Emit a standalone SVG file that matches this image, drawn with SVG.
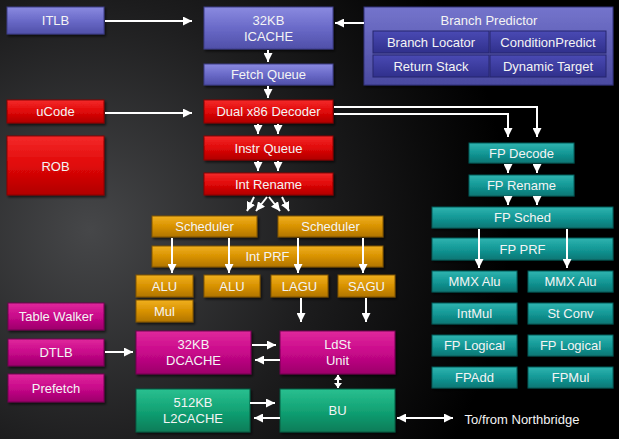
<svg xmlns="http://www.w3.org/2000/svg" width="619" height="439" viewBox="0 0 619 439">
<defs>
<radialGradient id="bg" cx="90" cy="230" r="420" gradientUnits="userSpaceOnUse">
<stop offset="0" stop-color="#464749"/>
<stop offset="0.55" stop-color="#1c1c1d"/>
<stop offset="1" stop-color="#000"/>
</radialGradient>
<linearGradient id="gBlue" x1="0" y1="0" x2="0" y2="1"><stop offset="0" stop-color="#8a8ae0"/><stop offset="0.5" stop-color="#6a6ac8"/><stop offset="1" stop-color="#4f4fa8"/></linearGradient>
<linearGradient id="gBP" x1="0" y1="0" x2="0" y2="1"><stop offset="0" stop-color="#7474cc"/><stop offset="1" stop-color="#4a4aa0"/></linearGradient>
<linearGradient id="gCell" x1="0" y1="0" x2="0" y2="1"><stop offset="0" stop-color="#4a4ab4"/><stop offset="1" stop-color="#30308c"/></linearGradient>
<linearGradient id="gRed" x1="0" y1="0" x2="0" y2="1"><stop offset="0" stop-color="#f42a2a"/><stop offset="0.5" stop-color="#e00808"/><stop offset="1" stop-color="#b00000"/></linearGradient>
<linearGradient id="gGold" x1="0" y1="0" x2="0" y2="1"><stop offset="0" stop-color="#f0b020"/><stop offset="0.5" stop-color="#d89200"/><stop offset="1" stop-color="#b07400"/></linearGradient>
<linearGradient id="gTeal" x1="0" y1="0" x2="0" y2="1"><stop offset="0" stop-color="#30b4b0"/><stop offset="0.5" stop-color="#139896"/><stop offset="1" stop-color="#0a7674"/></linearGradient>
<linearGradient id="gMag" x1="0" y1="0" x2="0" y2="1"><stop offset="0" stop-color="#e0289c"/><stop offset="0.5" stop-color="#c8088a"/><stop offset="1" stop-color="#9c006a"/></linearGradient>
<linearGradient id="gGreen" x1="0" y1="0" x2="0" y2="1"><stop offset="0" stop-color="#2ac090"/><stop offset="0.5" stop-color="#12a274"/><stop offset="1" stop-color="#0a7c58"/></linearGradient>
<marker id="ah" markerUnits="userSpaceOnUse" markerWidth="10" markerHeight="9" refX="9" refY="4.5" orient="auto">
<path d="M0,0 L9,4.5 L0,9 Z" fill="#fff"/>
</marker>
<marker id="as" markerUnits="userSpaceOnUse" markerWidth="10" markerHeight="9" refX="0" refY="4.5" orient="auto">
<path d="M9,0 L0,4.5 L9,9 Z" fill="#fff"/>
</marker>
<marker id="ahs" markerUnits="userSpaceOnUse" markerWidth="6" markerHeight="8" refX="5" refY="4" orient="auto">
<path d="M0,0 L5,4 L0,8 Z" fill="#fff"/>
</marker>
<marker id="ass" markerUnits="userSpaceOnUse" markerWidth="6" markerHeight="8" refX="0" refY="4" orient="auto">
<path d="M5,0 L0,4 L5,8 Z" fill="#fff"/>
</marker>
<filter id="sh" x="-10%" y="-10%" width="130%" height="140%"><feDropShadow dx="1.5" dy="2" stdDeviation="1.2" flood-color="#000" flood-opacity="0.6"/></filter>
</defs>
<style>
text{font-family:"Liberation Sans",Arial,sans-serif;font-size:13px;fill:#f4f4f4;text-anchor:middle}
rect{filter:url(#sh)}
.blue{fill:url(#gBlue);stroke:#3c3c88;stroke-width:1}
.bp{fill:url(#gBP);stroke:#33337a;stroke-width:1}
.cell{fill:url(#gCell);stroke:#26266e;stroke-width:1}
.red{fill:url(#gRed);stroke:#8a0000;stroke-width:1}
.gold{fill:url(#gGold);stroke:#805400;stroke-width:1}
.teal{fill:url(#gTeal);stroke:#055a58;stroke-width:1}
.mag{fill:url(#gMag);stroke:#700050;stroke-width:1}
.green{fill:url(#gGreen);stroke:#075a40;stroke-width:1}
.c{fill:none;stroke:#fff;stroke-width:2;marker-end:url(#ah)}
.d{fill:none;stroke:#fff;stroke-width:2;marker-end:url(#ah);marker-start:url(#as)}
.ds{fill:none;stroke:#fff;stroke-width:2;marker-end:url(#ahs);marker-start:url(#ass)}
</style>
<rect x="0" y="0" width="619" height="439" fill="url(#bg)" style="filter:none"/>

<g id="itlb"><rect class="blue" x="7" y="7" width="97" height="27"/><text x="55.5" y="25">ITLB</text></g>
<g id="icache"><rect class="blue" x="204" y="7" width="129" height="42"/><text x="268.5" y="25">32KB</text><text x="268.5" y="41">ICACHE</text></g>
<g id="fetchq"><rect class="blue" x="204" y="64" width="129" height="21"/><text x="268.5" y="79">Fetch Queue</text></g>
<g id="bp"><rect class="bp" x="364" y="7" width="249" height="78"/><text x="489" y="25">Branch Predictor</text>
<rect class="cell" x="373" y="31" width="116" height="22" style="filter:none"/><text x="431" y="47">Branch Locator</text>
<rect class="cell" x="490" y="31" width="116" height="22" style="filter:none"/><text x="548" y="47">ConditionPredict</text>
<rect class="cell" x="373" y="55" width="116" height="22" style="filter:none"/><text x="431" y="71">Return Stack</text>
<rect class="cell" x="490" y="55" width="116" height="22" style="filter:none"/><text x="548" y="71">Dynamic Target</text></g>
<g id="ucode"><rect class="red" x="7" y="100" width="97" height="23"/><text x="55.5" y="116">uCode</text></g>
<g id="decoder"><rect class="red" x="204" y="100" width="129" height="23"/><text x="268.5" y="116">Dual x86 Decoder</text></g>
<g id="rob"><rect class="red" x="7" y="136" width="97" height="59"/><text x="55.5" y="171">ROB</text></g>
<g id="instrq"><rect class="red" x="204" y="136" width="129" height="24"/><text x="268.5" y="153">Instr Queue</text></g>
<g id="intrename"><rect class="red" x="204" y="173" width="129" height="22"/><text x="268.5" y="189">Int Rename</text></g>
<g id="sched1"><rect class="gold" x="152" y="216" width="105" height="21"/><text x="204.5" y="231">Scheduler</text></g>
<g id="sched2"><rect class="gold" x="278" y="216" width="105" height="21"/><text x="330.5" y="231">Scheduler</text></g>
<g id="intprf"><rect class="gold" x="152" y="246" width="231" height="21"/><text x="267.5" y="261">Int PRF</text></g>
<g id="alu1"><rect class="gold" x="136" y="275" width="57" height="22"/><text x="164.5" y="291">ALU</text></g>
<g id="alu2"><rect class="gold" x="204" y="275" width="56" height="22"/><text x="232" y="291">ALU</text></g>
<g id="lagu"><rect class="gold" x="271" y="275" width="57" height="22"/><text x="299.5" y="291">LAGU</text></g>
<g id="sagu"><rect class="gold" x="338" y="275" width="57" height="22"/><text x="366.5" y="291">SAGU</text></g>
<g id="mul"><rect class="gold" x="136" y="300" width="57" height="22"/><text x="164.5" y="316">Mul</text></g>
<g id="tablewalker"><rect class="mag" x="8" y="303" width="96" height="27"/><text x="56" y="321">Table Walker</text></g>
<g id="dtlb"><rect class="mag" x="8" y="339" width="96" height="27"/><text x="56" y="357">DTLB</text></g>
<g id="prefetch"><rect class="mag" x="8" y="374" width="96" height="28"/><text x="56" y="393">Prefetch</text></g>
<g id="dcache"><rect class="mag" x="136" y="331" width="115" height="43"/><text x="193.5" y="349">32KB</text><text x="193.5" y="365">DCACHE</text></g>
<g id="ldst"><rect class="mag" x="280" y="331" width="115" height="43"/><text x="337.5" y="349">LdSt</text><text x="337.5" y="365">Unit</text></g>
<g id="l2cache"><rect class="green" x="136" y="389" width="114" height="43"/><text x="193" y="407">512KB</text><text x="193" y="423">L2CACHE</text></g>
<g id="bu"><rect class="green" x="280" y="389" width="115" height="43"/><text x="337.5" y="415">BU</text></g>
<g id="fpdecode"><rect class="teal" x="469" y="143" width="105" height="20"/><text x="521.5" y="158">FP Decode</text></g>
<g id="fprename"><rect class="teal" x="469" y="175" width="105" height="21"/><text x="521.5" y="190">FP Rename</text></g>
<g id="fpsched"><rect class="teal" x="432" y="207" width="181" height="21"/><text x="522.5" y="222">FP Sched</text></g>
<g id="fpprf"><rect class="teal" x="432" y="238" width="181" height="22"/><text x="522.5" y="254">FP PRF</text></g>
<g id="mmx1"><rect class="teal" x="432" y="271" width="85" height="21"/><text x="474.5" y="286">MMX Alu</text></g>
<g id="mmx2"><rect class="teal" x="528" y="271" width="85" height="21"/><text x="570.5" y="286">MMX Alu</text></g>
<g id="intmul"><rect class="teal" x="432" y="303" width="85" height="21"/><text x="474.5" y="318">IntMul</text></g>
<g id="stconv"><rect class="teal" x="528" y="303" width="85" height="21"/><text x="570.5" y="318">St Conv</text></g>
<g id="fplogical1"><rect class="teal" x="432" y="335" width="85" height="21"/><text x="474.5" y="350">FP Logical</text></g>
<g id="fplogical2"><rect class="teal" x="528" y="335" width="85" height="21"/><text x="570.5" y="350">FP Logical</text></g>
<g id="fpadd"><rect class="teal" x="432" y="367" width="85" height="21"/><text x="474.5" y="382">FPAdd</text></g>
<g id="fpmul"><rect class="teal" x="528" y="367" width="85" height="21"/><text x="570.5" y="382">FPMul</text></g>
<g id="northbridge"><text x="522" y="424">To/from Northbridge</text></g>

<g id="connectors">
<path class="c" d="M105,21 H192"/>
<path class="c" d="M105,113 H192"/>
<path class="c" d="M364,23 H335"/>
<path class="c" d="M268,50 V62"/>
<path class="c" d="M268,86 V98"/>
<path class="c" d="M258,124 V134"/>
<path class="c" d="M278,124 V134"/>
<path class="c" d="M258,161 V171"/>
<path class="c" d="M278,161 V171"/>
<path class="c" d="M254,197 L247,211"/>
<path class="c" d="M267,197 L256,211"/>
<path class="c" d="M269,197 L280,211"/>
<path class="c" d="M282,197 L289,211"/>
<path class="c" d="M172,238 V273"/>
<path class="c" d="M229,238 V273"/>
<path class="c" d="M298,238 V273"/>
<path class="c" d="M363,238 V273"/>
<path class="c" d="M301,298 V322"/>
<path class="c" d="M366,298 V322"/>
<path class="c" d="M105,352 H133"/>
<path class="c" d="M252,345 H276"/>
<path class="c" d="M280,360 H255"/>
<path class="ds" d="M338,375 V388"/>
<path class="c" d="M250,403 H275"/>
<path class="c" d="M280,418 H254"/>
<path class="d" d="M397,418 H453"/>
<path class="c" d="M334,107 H537 V137"/>
<path class="c" d="M334,114 H508 V137"/>
<path class="c" d="M508,164 V173"/>
<path class="c" d="M537,164 V173"/>
<path class="c" d="M508,197 V205"/>
<path class="c" d="M537,197 V205"/>
<path class="c" d="M479,229 V268"/>
<path class="c" d="M567,229 V268"/>
</g>
</svg>
